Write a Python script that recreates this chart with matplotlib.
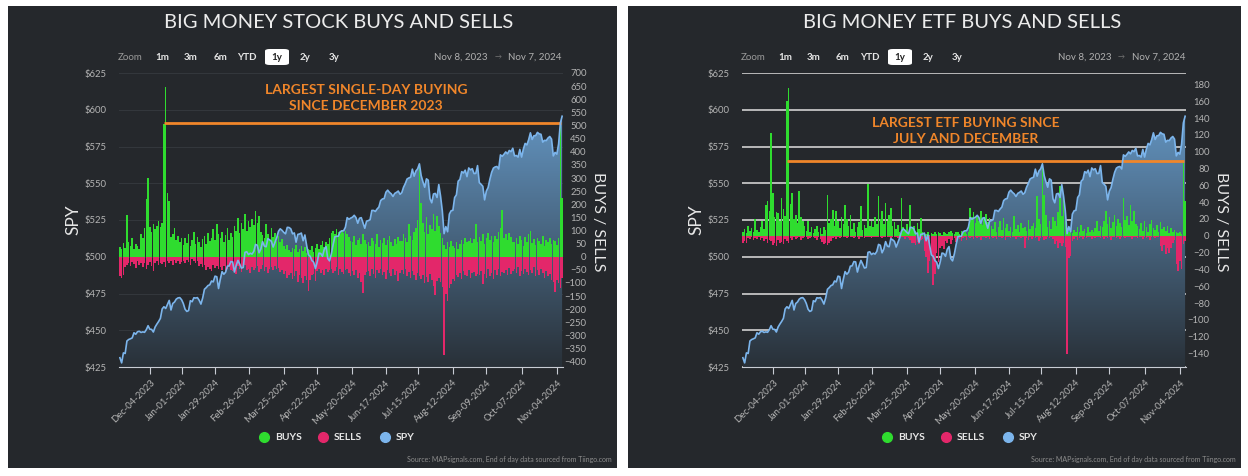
import numpy as np, pandas as pd, matplotlib
matplotlib.use("Agg")
import matplotlib.pyplot as plt
from matplotlib.patches import Rectangle, FancyBboxPatch
from matplotlib.lines import Line2D

plt.rcParams["font.family"] = ["Lato", "DejaVu Sans"]

# trading days Nov 8 2023 .. Nov 7 2024 (NYSE holidays removed)
holidays = ["2023-11-23", "2023-12-25", "2024-01-01", "2024-01-15", "2024-02-19",
            "2024-03-29", "2024-05-27", "2024-06-19", "2024-07-04", "2024-09-02"]
days = pd.bdate_range("2023-11-08", "2024-11-07").drop(pd.to_datetime(holidays))

tick_dates = ["2023-12-04", "2024-01-01", "2024-01-29", "2024-02-26", "2024-03-25", "2024-04-22",
              "2024-05-20", "2024-06-17", "2024-07-15", "2024-08-12", "2024-09-09", "2024-10-07",
              "2024-11-04"]

# SPY close (adjusted), one value per trading day, one row per month
spy = [431.3, 427.8, 434.6, 434.2, 442.7, 443.7, 444.2, 444.8, 448.3, 447.3, 449.0, 449.3, 448.5, 448.9, 448.6, 450.4,
       453.1, 450.7, 450.6, 448.8, 452.2, 454.2, 456.0, 458.1, 464.5, 466.0, 464.8, 467.5, 470.3, 463.8, 468.2, 469.2, 471.2, 472.0, 472.2, 470.8,
       468.2, 464.3, 462.8, 463.4, 470.1, 469.4, 472.1, 471.9, 472.2, 470.4, 467.8, 472.0, 477.9, 479.0, 480.4, 480.9, 483.5, 482.9, 486.8, 486.4, 478.4,
       484.7, 489.9, 488.1, 489.5, 493.6, 493.8, 496.7, 496.5, 489.6, 494.1, 497.5, 495.0, 492.3, 492.7, 503.0, 503.4, 501.5, 502.4, 501.8, 503.6,
       508.4, 507.8, 502.7, 505.3, 510.3, 507.2, 506.8, 512.3, 511.5, 510.5, 506.6, 509.7, 512.9, 517.3, 519.0, 518.0, 516.6, 515.6, 520.0, 519.9,
       519.0, 515.6, 516.2, 509.9, 515.2, 515.5, 516.1, 510.9, 514.8, 507.7, 501.3, 500.3, 497.4, 496.3, 492.0, 496.5, 502.5, 502.2, 500.3, 505.1, 506.9, 498.8,
       497.2, 501.8, 508.1, 513.6, 513.9, 514.0, 517.0, 517.6, 517.7, 520.1, 526.6, 525.5, 526.3, 526.9, 528.2, 526.6, 522.8, 526.2, 526.6, 522.9, 519.4, 524.2,
       524.6, 525.2, 531.5, 531.5, 530.8, 532.5, 533.8, 538.2, 539.3, 539.6, 543.9, 545.3, 543.8, 542.8, 541.0, 543.1, 543.8, 544.7, 542.5,
       543.6, 547.3, 549.8, 552.9, 553.6, 554.1, 559.6, 554.8, 558.3, 559.8, 563.2, 555.2, 551.0, 547.3, 553.0, 552.1, 539.5, 536.7, 542.7, 543.1, 540.3, 549.1,
       541.3, 531.2, 515.7, 520.5, 517.0, 529.0, 531.3, 531.6, 540.3, 542.1, 551.4, 552.6, 557.9, 557.0, 558.9, 554.5, 560.4, 559.1, 559.9, 556.6, 556.7, 562.0,
       550.4, 549.3, 547.9, 538.7, 544.7, 547.1, 552.7, 557.4, 560.3, 561.1, 561.4, 559.7, 569.3, 568.3, 569.7, 571.3, 570.0, 572.3, 571.5, 573.8,
       568.6, 568.9, 567.8, 573.0, 567.8, 573.2, 577.1, 576.1, 579.6, 584.3, 579.8, 582.3, 582.4, 584.6, 583.6, 583.3, 578.0, 579.2, 579.0, 580.8, 581.8, 580.0, 568.6,
       571.0, 569.8, 576.7, 591.0, 595.6]

# big money stock buys / sells
stock_buys = [38, 30, 52, 35, 160, 58, 42, 72, 28, 48, 40, 30, 85, 70, 110, 219,
              300, 115, 95, 125, 105, 118, 136, 112, 128, 505, 645, 244, 212, 75, 88, 110, 65, 80, 58, 72,
              45, 70, 52, 85, 40, 62, 95, 48, 75, 55, 38, 68, 80, 50, 92, 60, 72, 105, 65, 125, 88,
              70, 95, 58, 82, 110, 64, 90, 75, 118, 100, 149, 92, 128, 105, 162, 98, 135, 112, 142, 120,
              174, 130, 155, 95, 82, 70, 124, 88, 65, 110, 75, 92, 60, 80, 55, 68, 40, 30, 45, 25,
              20, 35, 28, 45, 18, 30, 40, 22, 38, 15, 30, 25, 42, 20, 35, 50, 28, 45, 60, 38, 55, 48,
              70, 92, 100, 85, 105, 95, 88, 102, 90, 98, 86, 75, 60, 55, 80, 45, 65, 70, 50, 85, 62, 48,
              55, 40, 72, 60, 48, 85, 38, 65, 52, 70, 45, 62, 78, 58, 42, 68, 50, 75, 60,
              60, 88, 72, 55, 124, 80, 65, 95, 110, 140, 352, 206, 130, 95, 150, 88, 120, 105, 162, 100, 155, 118,
              90, 72, 45, 30, 55, 38, 60, 42, 35, 58, 28, 50, 65, 48, 72, 55, 60, 70, 52, 66, 123, 58,
              75, 60, 85, 50, 72, 90, 65, 80, 55, 78, 68, 95, 110, 180, 70, 85, 62, 92, 75, 58,
              55, 70, 48, 80, 62, 40, 75, 58, 85, 98, 52, 68, 45, 72, 60, 50, 78, 42, 65, 55, 70, 48, 62,
              60, 45, 72, 515, 225]
stock_sells = [-75, -80, -68, -40, -30, -25, -35, -20, -28, -42, -18, -30, -22, -38, -25, -45,
               -30, -20, -35, -55, -25, -18, -32, -22, -28, -20, -40, -15, -25, -18, -30, -12, -22, -15, -28, -20,
               -15, -25, -12, -20, -30, -10, -18, -22, -15, -35, -28, -40, -32, -50, -38, -45, -55, -30, -42, -35, -48,
               -40, -52, -35, -60, -45, -38, -50, -55, -42, -65, -35, -48, -58, -40, -30, -52, -45, -62, -38, -50,
               -42, -35, -58, -48, -30, -55, -40, -60, -45, -38, -52, -35, -48, -42, -58, -50, -65, -55, -80, -70,
               -60, -85, -72, -55, -95, -68, -80, -100, -75, -90, -131, -88, -70, -65, -93, -55, -48, -62, -50, -70, -45, -58,
               -50, -45, -62, -55, -40, -70, -48, -58, -65, -52, -45, -60, -75, -55, -68, -50, -80, -62, -95, -137, -70, -58,
               -55, -72, -48, -65, -80, -52, -60, -45, -70, -58, -85, -50, -62, -75, -48, -68, -55, -93, -60,
               -50, -65, -45, -72, -58, -80, -55, -68, -90, -62, -75, -85, -70, -100, -78, -95, -65, -88, -110, -145, -92, -80,
               -95, -115, -373, -140, -170, -120, -105, -85, -92, -70, -78, -60, -85, -55, -68, -72, -50, -80, -62, -58, -75, -65,
               -70, -55, -105, -65, -80, -48, -72, -60, -85, -52, -68, -45, -75, -58, -62, -50, -70, -42, -65, -55,
               -48, -60, -40, -72, -55, -65, -45, -58, -70, -52, -62, -38, -75, -50, -68, -45, -60, -80, -55, -72, -65, -88, -95,
               -135, -90, -100, -120, -80]

# big money ETF buys / sells
etf_buys = [4, 8, 3, 12, 6, 9, 5, 20, 7, 4, 10, 17, 8, 36, 41, 30,
            122, 51, 22, 28, 27, 18, 45, 32, 24, 160, 176, 38, 51, 20, 25, 15, 53, 22, 18, 12,
            6, 17, 4, 10, 3, 8, 12, 5, 9, 2, 11, 7, 49, 15, 20, 31, 12, 29, 18, 9, 22,
            14, 37, 20, 12, 25, 8, 15, 5, 11, 16, 35, 7, 13, 9, 61, 12, 18, 10, 22, 14,
            47, 20, 29, 14, 39, 18, 25, 33, 12, 16, 8, 13, 5, 45, 10, 7, 14, 4, 37, 9,
            12, 6, 15, 8, 21, 5, 3, 2, 4, 1, 3, 2, 5, 2, 4, 3, 1, 5, 3, 2, 4, 6,
            3, 2, 5, 4, 2, 6, 3, 5, 2, 4, 33, 22, 28, 15, 24, 18, 30, 13, 20, 26, 16, 21,
            12, 8, 16, 5, 10, 18, 7, 21, 9, 14, 6, 11, 4, 23, 8, 13, 5, 15, 9,
            10, 6, 19, 8, 12, 15, 9, 47, 20, 14, 87, 49, 25, 11, 18, 8, 22, 17, 12, 28, 59, 24,
            47, 18, 6, 4, 9, 3, 7, 5, 11, 4, 13, 6, 8, 3, 10, 5, 7, 4, 9, 17, 6, 12,
            10, 18, 29, 14, 22, 9, 16, 25, 12, 20, 15, 11, 45, 19, 24, 13, 37, 17, 29, 14,
            12, 8, 15, 6, 18, 10, 5, 14, 19, 9, 7, 13, 4, 16, 8, 11, 6, 12, 3, 9, 5, 7, 4,
            3, 5, 2, 88, 41]
etf_sells = [-8, -6, -9, -3, -4, -2, -5, -3, -4, -2, -5, -3, -6, -4, -8, -5,
             -6, -11, -8, -12, -5, -9, -7, -10, -4, -6, -8, -3, -5, -2, -4, -3, -2, -5, -3, -2,
             -2, -4, -3, -1, -2, -3, -5, -2, -4, -7, -10, -8, -11, -9, -6, -3, -2, -4, -1, -3, -2,
             -2, -1, -3, -2, -1, -2, -3, -1, -2, -4, -1, -2, -3, -1, -2, -1, -3, -2, -1, -2,
             -1, -2, -3, -1, -2, -1, -2, -3, -1, -2, -1, -3, -2, -1, -2, -4, -2, -3, -5, -8,
             -9, -11, -7, -10, -5, -4, -18, -25, -44, -30, -22, -58, -46, -20, -31, -15, -12, -16, -6, -8, -4, -10,
             -5, -3, -7, -2, -4, -6, -3, -2, -5, -1, -3, -2, -4, -1, -3, -2, -5, -2, -1, -3, -2, -4,
             -2, -3, -1, -4, -2, -1, -3, -2, -5, -1, -2, -3, -1, -2, -4, -2, -1, -3, -2,
             -15, -3, -5, -2, -4, -1, -3, -2, -6, -3, -2, -5, -4, -2, -3, -1, -4, -10, -6, -15, -8, -12,
             -9, -13, -141, -26, -24, -6, -4, -2, -5, -3, -1, -4, -2, -3, -1, -2, -4, -2, -3, -1, -2, -3,
             -2, -4, -1, -3, -2, -5, -1, -2, -3, -1, -4, -2, -1, -3, -2, -1, -2, -4, -1, -2,
             -3, -1, -2, -4, -1, -3, -2, -5, -1, -2, -3, -1, -2, -12, -18, -11, -22, -15, -20, -14, -8, -5, -34,
             -42, -30, -40, -10, -6]

for s in (spy, stock_buys, stock_sells, etf_buys, etf_sells):
    assert len(s) == len(days), len(s)

W, H = 1248, 476
BG = "#25282c"; GREEN = "#2fdc2f"; RED = "#e3276a"; BLUE = "#7cb5ec"; ORANGE = "#f0862a"
TXT = "#b4b4b4"

fig = plt.figure(figsize=(W / 100, H / 100), dpi=100)
fig.patch.set_facecolor("white")
fx = lambda p: p / W
fy = lambda p: 1 - p / H

x = np.arange(len(days))
tpos = []
for d in pd.to_datetime(tick_dates):
    i = days.searchsorted(d)
    tpos.append(i if days[i] == d else i - 0.5)
tlab = [d.strftime("%b-%d-%Y") for d in pd.to_datetime(tick_dates)]


def panel(px, off, title, buys, sells, rlim, rticks, gridc, gridlw, note, note_xy, level, lstart):
    fig.add_artist(Rectangle((fx(px[0]), fy(468)), fx(px[1] - px[0]), 462 / H, transform=fig.transFigure,
                             facecolor=BG, edgecolor="none", zorder=0))
    ax = fig.add_axes([fx(119 + off), fy(367), fx(444), 294 / H])
    ax.set_facecolor(BG)
    for s in ax.spines.values():
        s.set_visible(False)
    ax.spines["bottom"].set_visible(True); ax.spines["bottom"].set_color("#c8ccd4")

    # SPY area with vertical gradient
    poly = ax.fill_between(x, spy, 425, color="none", lw=0)
    g = np.linspace(0, 1, 256)[:, None, None]
    top = np.array([0.40, 0.60, 0.78]); bot = np.array([0.16, 0.19, 0.22])
    im = ax.imshow(bot + (top - bot) * g, extent=[-0.5, len(x) - 0.5, 425, 605], origin="lower",
                   aspect="auto", zorder=1)
    im.set_clip_path(poly.get_paths()[0], transform=ax.transData)
    ax.set_xlim(-0.5, len(x) - 0.5); ax.set_ylim(425, 625)
    ax.set_yticks(range(425, 626, 25))
    ax.set_yticklabels([f"${v}" for v in range(425, 626, 25)])
    ax.yaxis.grid(True, color=gridc, lw=gridlw, zorder=0.5)
    ax.set_axisbelow(True)
    ax.tick_params(axis="y", colors=TXT, labelsize=6.8, length=0, pad=9)
    ax.set_xticks(tpos)
    ax.set_xticklabels(tlab, rotation=45, ha="right", rotation_mode="anchor")
    ax.tick_params(axis="x", colors="#c8ccd4", labelcolor=TXT, labelsize=6.8, length=5, direction="out", pad=3)

    # buys / sells on right axis
    ax2 = ax.twinx()
    ax2.bar(x, buys, width=0.9, color=GREEN, lw=0, zorder=2, antialiased=False)
    ax2.bar(x, sells, width=0.9, color=RED, lw=0, zorder=2, antialiased=False)
    ax2.plot([lstart, len(x) - 1.5], [level, level], color=ORANGE, lw=2, zorder=3, solid_capstyle="butt")
    ax2.set_ylim(*rlim); ax2.set_yticks(rticks)
    for s in ax2.spines.values():
        s.set_visible(False)
    ax2.tick_params(axis="y", colors=TXT, labelsize=6.8, length=0, pad=17)
    for t in ax2.get_yticklabels():
        t.set_ha("right")

    # SPY line on top
    ax3 = ax.twinx()
    ax3.set_ylim(425, 625); ax3.set_xlim(-0.5, len(x) - 0.5)
    ax3.plot(x, spy, color=BLUE, lw=1.2)
    ax3.axis("off")

    # texts
    fig.text(fx(339 + off), fy(22), title, ha="center", va="center", color="#ececec", fontsize=14.5)
    fig.text(fx(73 + off), fy(220), "SPY", rotation=90, ha="center", va="center", color="#e6e6e6", fontsize=12.5)
    fig.text(fx(598 + off), fy(222), "BUYS / SELLS", rotation=270, ha="center", va="center", color="#e6e6e6", fontsize=11.5)
    fig.text(fx(note_xy[0] + off), fy(note_xy[1]), note, ha="center", va="center", color=ORANGE, fontsize=10,
             fontweight="bold", linespacing=1.35)

    # zoom row
    fig.text(fx(118 + off), fy(57), "Zoom", ha="left", va="center", color="#9a9a9a", fontsize=7)
    for lab, cx in [("1m", 162), ("3m", 191), ("6m", 220), ("YTD", 247), ("2y", 305), ("3y", 334)]:
        fig.text(fx(cx + off), fy(57), lab, ha="center", va="center", color="#e6e6e6", fontsize=7, fontweight="bold")
    fig.add_artist(FancyBboxPatch((fx(265 + off), fy(65)), fx(24), 16 / H, boxstyle="round,pad=0,rounding_size=0.004",
                                  transform=fig.transFigure, facecolor="white", edgecolor="none"))
    fig.text(fx(277 + off), fy(57), "1y", ha="center", va="center", color="#222222", fontsize=7, fontweight="bold")
    fig.text(fx(488 + off), fy(57), "Nov 8, 2023", ha="right", va="center", color="#b0b0b0", fontsize=7)
    fig.text(fx(498 + off), fy(57), "→", ha="center", va="center", color="#777777", fontsize=5)
    fig.text(fx(562 + off), fy(57), "Nov 7, 2024", ha="right", va="center", color="#b0b0b0", fontsize=7)

    # legend
    for lab, cx, col in [("BUYS", 264, GREEN), ("SELLS", 323, RED), ("SPY", 385, BLUE)]:
        fig.add_artist(Line2D([fx(cx + off)], [fy(437)], marker="o", ms=7, color=col, mec=col, transform=fig.transFigure))
        fig.text(fx(cx + 11 + off), fy(437), lab, ha="left", va="center", color="#e6e6e6", fontsize=7.5, fontweight="bold")
    fig.text(fx(px[1] - 5), fy(459), "Source: MAPsignals.com, End of day data sourced from Tiingo.com",
             ha="right", va="center", color="#8c8c8c", fontsize=5)


panel((8, 617), 0, "BIG MONEY STOCK BUYS AND SELLS", stock_buys, stock_sells,
      (-420, 700), range(-400, 701, 50), "#33373c", 0.8,
      "LARGEST SINGLE-DAY BUYING\nSINCE DECEMBER 2023", (366, 98), 510, 25)
panel((628, 1241), 623, "BIG MONEY ETF BUYS AND SELLS", etf_buys, etf_sells,
      (-156, 193.5), range(-140, 181, 20), "#c4c4c4", 1.3,
      "LARGEST ETF BUYING SINCE\nJULY AND DECEMBER", (343, 131), 88.5, 25)

fig.savefig("out.png", dpi=100, facecolor="white")
